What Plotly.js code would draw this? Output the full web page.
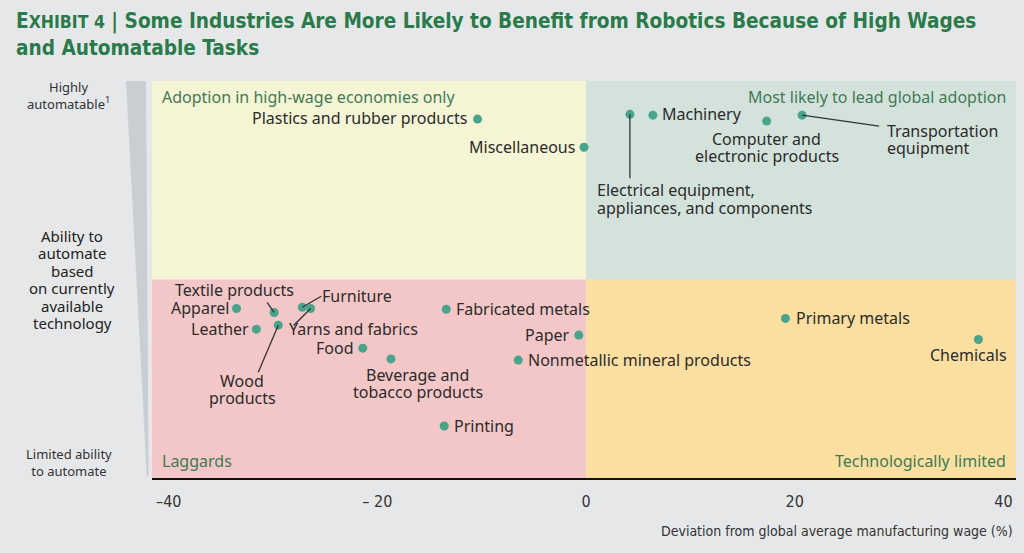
<!DOCTYPE html>
<html><head><meta charset="utf-8">
<script src="https://cdn.plot.ly/plotly-3.0.1.min.js"></script>
<style>html,body{margin:0;padding:0;background:#e6e7e8;} #chart{width:1024px;height:553px;}</style>
</head><body><div id="chart"></div>
<script>
// ---- data ----
const industries = ["Plastics and rubber products","Miscellaneous","Electrical equipment,<br>appliances, and components","Machinery","Computer and<br>electronic products","Transportation<br>equipment","Apparel","Textile products","Leather","Wood<br>products","Furniture","Yarns and fabrics","Fabricated metals","Paper","Food","Beverage and<br>tobacco products","Nonmetallic mineral products","Printing","Primary metals","Chemicals"];
const wageDeviation = [-10.4,-0.2,4.2,6.4,17.3,20.7,-33.5,-29.9,-31.6,-29.5,-27.2,-26.4,-13.4,-0.7,-21.4,-18.7,-6.5,-13.6,19.1,37.6];
const automatability = [90.4,83.3,91.6,91.4,89.9,91.4,42.7,41.7,37.5,38.5,43.0,42.7,42.5,36.0,32.7,30.0,29.7,13.1,40.2,34.9];
const xTickValues = [-40,-20,0,20,40];
const xTickLabels = ["\u201340","\u2013 20","0","20","40"];
const quadrantNames = ["Adoption in high-wage economies only","Most likely to lead global adoption","Laggards","Technologically limited"];
const yAxisLines = ["Ability to","automate","based","on currently","available","technology"];
const xDivide = 0, yDivide = 50;
const xRange = [-41.6, 41.2], yRange = [0, 100];

// ---- label styling (offsets in pixels; dy positive = up) ----
const labelStyle = [
 {xa:'right', ya:'middle', dx:-9, dy:1},
 {xa:'right', ya:'middle', dx:-7, dy:0},
 {xa:'left', ya:'top', dx:-35, dy:-67, ax:0, ay:64},
 {xa:'left', ya:'middle', dx:7, dy:1},
 {xa:'center', ya:'top', dx:0, dy:-9},
 {xa:'left', ya:'top', dx:83, dy:-7, ax:77, ay:11},
 {xa:'right', ya:'middle', dx:-6, dy:0},
 {xa:'right', ya:'middle', dx:22, dy:22, ax:-7, ay:-10},
 {xa:'right', ya:'middle', dx:-5, dy:0},
 {xa:'center', ya:'top', dx:-36, dy:-47, ax:-20, ay:47},
 {xa:'left', ya:'middle', dx:18, dy:11, ax:19, ay:-11},
 {xa:'left', ya:'middle', dx:-24, dy:-21, ax:-17, ay:17},
 {xa:'left', ya:'middle', dx:8, dy:0},
 {xa:'right', ya:'middle', dx:-7, dy:0},
 {xa:'right', ya:'middle', dx:-7, dy:0},
 {xa:'center', ya:'top', dx:27, dy:-7},
 {xa:'left', ya:'middle', dx:8, dy:0},
 {xa:'left', ya:'middle', dx:8, dy:0},
 {xa:'left', ya:'middle', dx:9, dy:0},
 {xa:'center', ya:'top', dx:-10, dy:-7}
];
const LINE = 17.5;

const bodyFont = "'Noto Sans', 'Open Sans', sans-serif";
const condFont = "'Liberation Sans Narrow', 'DejaVu Sans Condensed', 'Roboto Condensed', sans-serif";
const labelColor = '#2b2b2b';
const quadColor = '#3f7a55';

const annotations = [];
const shapes = [
  {type:'rect', xref:'x', yref:'y', x0:xRange[0], x1:xDivide, y0:yDivide, y1:yRange[1], fillcolor:'#f5f5d5', line:{width:0}, layer:'below'},
  {type:'rect', xref:'x', yref:'y', x0:xDivide, x1:xRange[1], y0:yDivide, y1:yRange[1], fillcolor:'#d4e2dc', line:{width:0}, layer:'below'},
  {type:'rect', xref:'x', yref:'y', x0:xRange[0], x1:xDivide, y0:yRange[0], y1:yDivide, fillcolor:'#f3c7c7', line:{width:0}, layer:'below'},
  {type:'rect', xref:'x', yref:'y', x0:xDivide, x1:xRange[1], y0:yRange[0], y1:yDivide, fillcolor:'#fbdfa0', line:{width:0}, layer:'below'},
  {type:'path', xref:'paper', yref:'paper', path:'M -0.0301 1 L -0.0069 1 L -0.0040 0.004 L -0.0060 0.004 Z', fillcolor:'#c9ced3', line:{width:0}, layer:'below'}
];

industries.forEach((name, i) => {
  const s = labelStyle[i];
  const lines = name.split('<br>');
  const H = lines.length * LINE;
  let top = s.ya === 'top' ? -s.dy : (s.ya === 'bottom' ? -s.dy - H : -s.dy - H/2);
  lines.forEach((ln, k) => {
    const centerDown = top + (k + 0.5) * LINE;
    annotations.push({x: wageDeviation[i], y: automatability[i], xref:'x', yref:'y', text: ln,
      showarrow:false, xanchor:s.xa, yanchor:'middle', xshift:s.dx, yshift:-centerDown,
      font:{family:bodyFont, size:16, color:labelColor}});
  });
  if (s.ax !== undefined) {
    shapes.push({type:'line', xref:'x', yref:'y', xsizemode:'pixel', ysizemode:'pixel',
      xanchor: wageDeviation[i], yanchor: automatability[i], x0:0, y0:0, x1:s.ax, y1:-s.ay,
      line:{color:'#333', width:1.3}});
  }
});
// quadrant labels
const qPos = [
  {x:0, y:1, xa:'left', ya:'top', dx:8, dy:-3},
  {x:1, y:1, xa:'right', ya:'top', dx:-8, dy:-3},
  {x:0, y:0, xa:'left', ya:'bottom', dx:8, dy:4},
  {x:1, y:0, xa:'right', ya:'bottom', dx:-8, dy:4}
];
quadrantNames.forEach((q, i) => {
  const p = qPos[i];
  annotations.push({xref:'paper', yref:'paper', x:p.x, y:p.y, xanchor:p.xa, yanchor:p.ya, xshift:p.dx, yshift:p.dy,
    text:q, showarrow:false, font:{family:bodyFont, size:16, color:quadColor}});
});
// left-side axis descriptors
annotations.push({xref:'paper', yref:'paper', x:0, y:1, xanchor:'center', yanchor:'top', xshift:-84, yshift:5,
  text:'Highly<br>automatable<sup>1</sup>', showarrow:false, font:{family:bodyFont, size:13, color:'#333'}});
yAxisLines.forEach((ln, k) => {
  annotations.push({xref:'paper', yref:'paper', x:0, y:0.5, xanchor:'center', yanchor:'middle', xshift:-80,
    yshift: -(236 + k*LINE - 279.5) + 0.5,
    text:ln, showarrow:false, font:{family:bodyFont, size:15, color:'#222'}});
});
annotations.push({xref:'paper', yref:'paper', x:0, y:0, xanchor:'center', yanchor:'bottom', xshift:-83, yshift:-4,
  text:'Limited ability<br>to automate', showarrow:false, font:{family:bodyFont, size:13, color:'#333'}});
// x axis title (right aligned)
annotations.push({xref:'paper', yref:'paper', x:1, y:0, xanchor:'right', yanchor:'top', xshift:-1, yshift:-43,
  text:'Deviation from global average manufacturing wage (%)', showarrow:false, font:{family:condFont, size:14, color:'#333'}});
// chart title
annotations.push({xref:'paper', yref:'paper', x:(14-152)/864, y:(478-7)/397, xanchor:'left', yanchor:'top', align:'left',
  text:'<b>E<span style="font-size:17.5px">XHIBIT 4</span> | Some Industries Are More Likely to Benefit from Robotics Because of High Wages<br>and Automatable Tasks</b>',
  showarrow:false, font:{family:condFont, size:20.6, color:'#2a7a4b'}});

const trace = {x: wageDeviation, y: automatability, text: industries, type:'scatter', mode:'markers',
  marker:{size:9, color:'#48a48a'}, hoverinfo:'text', cliponaxis:false};

const layout = {
  width:1024, height:553,
  paper_bgcolor:'#e6e7e8', plot_bgcolor:'#e6e7e8',
  margin:{l:152, r:8, t:81, b:75},
  xaxis:{range:xRange, tickvals:xTickValues, ticktext:xTickLabels, showgrid:false, zeroline:false,
    showline:true, linecolor:'#111', linewidth:2, ticks:'', tickfont:{family:condFont, size:16, color:'#333'}, ticklabelstandoff:8, fixedrange:true},
  yaxis:{range:yRange, showgrid:false, zeroline:false, showticklabels:false, showline:false, ticks:'', fixedrange:true},
  showlegend:false, shapes:shapes, annotations:annotations
};
Plotly.newPlot('chart', [trace], layout, {displayModeBar:false, staticPlot:true});
</script></body></html>
